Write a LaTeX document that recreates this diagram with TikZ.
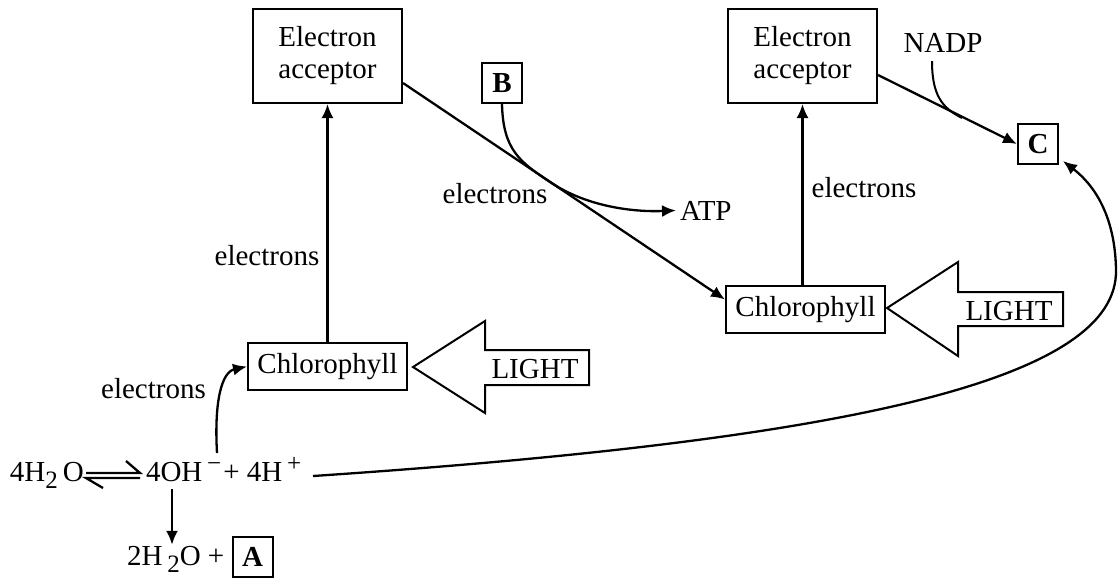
\documentclass[tikz,border=0pt]{standalone}
\usepackage{fontspec}
\setmainfont{Liberation Serif}
\usetikzlibrary{arrows.meta,calc}
\newcommand{\supr}[1]{\raisebox{5pt}{\fontsize{12.5}{13}\selectfont #1}}
\newcommand{\subr}[1]{\raisebox{-3.5pt}{\fontsize{12.5}{13}\selectfont #1}}
\begin{document}
\begin{tikzpicture}[x=0.5pt,y=-0.5pt, line width=1pt,
  every node/.style={font=\fontsize{14.5}{16}\selectfont},
  box/.style={draw, line width=1pt, inner sep=0pt, align=center},
  accbox/.style={box, minimum width=74.5pt, minimum height=47pt},
  chlbox/.style={box, minimum width=79.5pt, minimum height=23.5pt},
  letterbox/.style={box, minimum width=20pt, minimum height=20pt, font=\fontsize{14.5}{16}\selectfont\bfseries},
  arr/.style={-{Latex[length=7pt,width=6pt]}, line width=1.15pt},
  lbl/.style={anchor=base, inner sep=0pt},
  lblw/.style={anchor=base west, inner sep=0pt},
  lightarrow/.style={draw, line width=1pt}]
\useasboundingbox (0,0) rectangle (1118,579);

% boxes
\node[accbox] (accL) at (327.5,56) {Electron\\acceptor};
\node[accbox] (accR) at (802.5,56) {Electron\\acceptor};
\node[chlbox] (chlL) at (327.5,366.5) {Chlorophyll};
\node[chlbox] (chlR) at (805.5,309.5) {Chlorophyll};
\node[letterbox] (B) at (502,83) {B};
\node[letterbox] (C) at (1038,144) {C};
\node[letterbox] (A) at (252.5,556.5) {A};

% labels
\node[lbl] (e1) at (267,265) {electrons};
\node[lbl] (e2) at (495,203) {electrons};
\node[lbl] (e3) at (864,197) {electrons};
\node[lbl] (e4) at (153.5,398) {electrons};
\node[lbl] (nadp) at (943,52) {NADP};
\node[lblw] (atp) at (679,220) {ATP};
\node[lbl] (lightL) at (535,378) {LIGHT};
\node[lbl] (lightR) at (1009,320) {LIGHT};

% equation
\node[lblw] (h2o) at (9,481) {4H\subr{2}\,O};
\node[lblw] (oh) at (145,481) {4OH\,\supr{\char"2212}\kern1pt+\ 4H\,\supr{+}};
\node[lblw] (prod) at (126,565) {2H\,\subr{2}O +};

% LIGHT arrows
\path[lightarrow] (413,367) -- (485,321) -- (485,350) -- (589,350) -- (589,385) -- (485,385) -- (485,413) -- cycle;
\path[lightarrow] (887,308) -- (958,262) -- (958,292) -- (1063,292) -- (1063,326) -- (958,326) -- (958,356) -- cycle;

% equilibrium harpoons
\draw[line width=1.15pt] (86,473) -- (140,473) -- (126,461);
\draw[line width=1.15pt] (140,478) -- (86,478) -- (103,488);

% connectors
\draw[arr] (chlL.north) -- (accL.south);
\draw[arr] (chlR.north -| accR.south) -- (accR.south);
\draw[arr] ($(accL.east)+(0,27)$) -- ($(chlR.west)+(0,-10)$);
\draw[arr] ($(accR.east)+(0,19)$) -- (C.west);
\draw ($(nadp.south)+(-11,8)$) .. controls (932,95) and (942,108) .. (962,118);
\draw[arr] (B.south) .. controls (503,150) and (520,162) .. (550,182) .. controls (590,209) and (640,212) .. ($(atp.west)+(-3,0)$);
\coordinate (ohdown) at ($(oh.base west)+(27,8)$);
\draw[arr] (ohdown) -- (ohdown |- prod.north);
\draw[arr] ($(oh.base west)+(72,-28)$) .. controls (214,400) and (222,372) .. (chlL.west);
\draw[arr] (313,476) .. controls (850,440) and (1118,380) .. (1116,270) .. controls (1115,205) and (1085,178) .. ($(C.south east)+(4,-4)$);
\end{tikzpicture}
\end{document}
